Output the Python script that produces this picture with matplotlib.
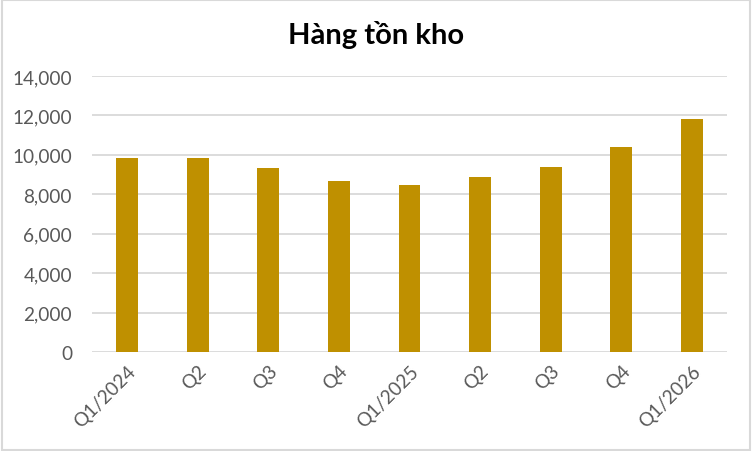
import matplotlib
matplotlib.use("Agg")
import matplotlib.pyplot as plt
from matplotlib.patches import Rectangle
from matplotlib.ticker import FuncFormatter, MultipleLocator

categories = ["Q1/2024", "Q2", "Q3", "Q4", "Q1/2025", "Q2", "Q3", "Q4", "Q1/2026"]
values = [9830, 9830, 9330, 8680, 8460, 8860, 9380, 10390, 11830]
title = "Hàng tồn kho"

plt.rcParams['font.family'] = ['Lato', 'DejaVu Sans']

fig = plt.figure(figsize=(7.52, 4.52), dpi=100)
ax = fig.add_axes([92/752, 1-353/452, (727-92)/752, (353-77)/452])

x = list(range(len(categories)))
ax.bar(x, values, width=0.31, color="#BF9000", zorder=3)
ax.set_xlim(-0.5, len(categories) - 0.5)
ax.set_ylim(0, 14000)
ax.yaxis.set_major_locator(MultipleLocator(2000))
ax.yaxis.set_major_formatter(FuncFormatter(lambda v, p: f"{int(v):,}"))
ax.grid(axis='y', color="#D9D9D9", linewidth=1.3, zorder=0)
for s in ax.spines.values():
    s.set_visible(False)
ax.tick_params(axis='both', length=0, labelsize=13.7, labelcolor="#595959")
ax.tick_params(axis='y', pad=14.4)
ax.set_xticks(x)
ax.set_xticklabels(categories, rotation=45, ha='right', rotation_mode='anchor')
ax.tick_params(axis='x', pad=7)

fig.text(376/752, 1-35/452, title, ha='center', va='center', fontsize=21,
         fontweight='bold', color='black')

fig.patches.append(Rectangle((0.002, 0.002), 0.996, 0.996, transform=fig.transFigure,
                             fill=False, edgecolor="#D9D9D9", linewidth=1.5))

fig.savefig("out.png", dpi=100, facecolor="white")
